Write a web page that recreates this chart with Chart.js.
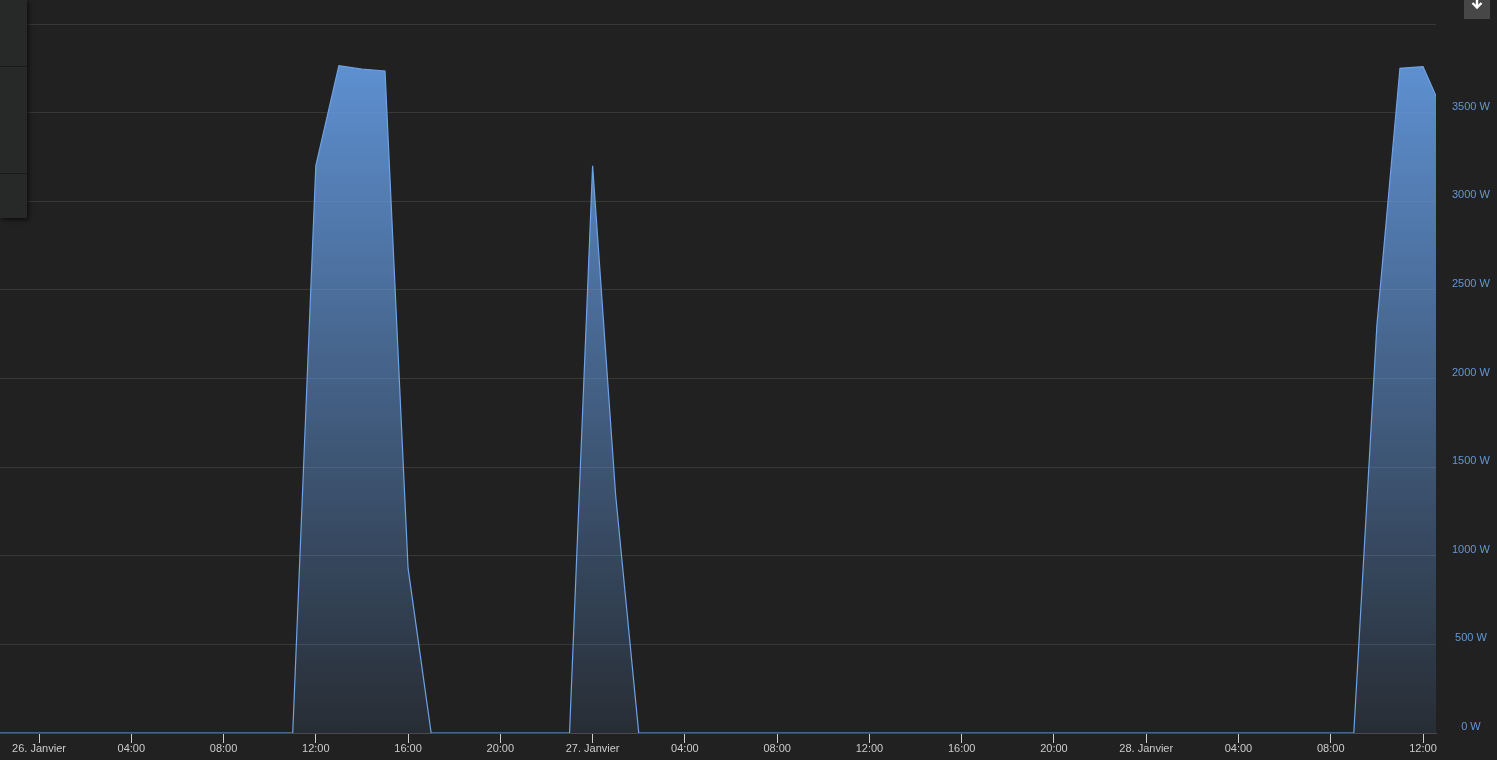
<!DOCTYPE html>
<html lang="fr">

<head>
    <meta charset="UTF-8">
    <script src="https://cdn.jsdelivr.net/npm/chart.js@4.4.1/dist/chart.umd.min.js"></script>
    <title>Puissance</title>
    <style>
        body { margin: 0; background: #212121; overflow: hidden; }
        .chart { position: relative; width: 1497px; height: 760px; }
        .side-panel {
            position: absolute; left: 0; top: 0; width: 27px; height: 218px;
            background: #272929; box-shadow: 2px 2px 4px rgba(0, 0, 0, 0.55);
        }
        .side-panel div { position: absolute; left: 0; width: 27px; height: 1px; background: #1a1a1a; }
        .download {
            position: absolute; left: 1464px; top: 0; width: 26px; height: 19px; background: #474747;
        }
    </style>
</head>

<body>
    <div class="chart">
        <canvas id="powerChart"></canvas>
        <div class="side-panel">
            <div style="top: 66px"></div>
            <div style="top: 173px"></div>
        </div>
        <div class="download">
            <svg width="26" height="19" viewBox="0 0 26 19">
                <path d="M13 -4 V7 M8.5 3 L13 7.5 L17.5 3" stroke="#ffffff" stroke-width="2.4" fill="none" />
            </svg>
        </div>
    </div>

    <script>
        // hours counted from 26. Janvier 00:00
        const hours = [-2, 11, 12, 13, 14, 15, 16, 17, 23, 24, 25, 26, 57, 58, 59, 60, 61];
        const watts = [0, 0, 3200, 3765, 3745, 3735, 930, 0, 0, 3200, 1340, 0, 0, 2300, 3750, 3760, 3465];

        const tickHours = [0, 4, 8, 12, 16, 20, 24, 28, 32, 36, 40, 44, 48, 52, 56, 60];
        const tickLabels = ["26. Janvier", "04:00", "08:00", "12:00", "16:00", "20:00",
            "27. Janvier", "04:00", "08:00", "12:00", "16:00", "20:00",
            "28. Janvier", "04:00", "08:00", "12:00"];

        Chart.defaults.font.family = '"Liberation Sans", Arial, sans-serif';
        Chart.defaults.font.size = 11;

        function areaFill(ctx) {
            const area = ctx.chart.chartArea;
            if (!area) return 'rgba(100, 155, 226, 0.5)';
            const g = ctx.chart.ctx.createLinearGradient(0, area.top, 0, area.bottom);
            g.addColorStop(0, 'rgba(100, 155, 226, 0.96)');
            g.addColorStop(1, 'rgba(100, 155, 226, 0.10)');
            return g;
        }

        new Chart("powerChart", {
            type: "line",
            data: {
                datasets: [{
                    data: hours.map((h, i) => ({ x: h, y: watts[i] })),
                    borderColor: "#6ea3e6",
                    borderWidth: 1.2,
                    backgroundColor: areaFill,
                    fill: "origin",
                    pointRadius: 0,
                    tension: 0
                }]
            },
            options: {
                responsive: true,
                maintainAspectRatio: false,
                animation: false,
                layout: { padding: { top: 24, left: 0, right: 0, bottom: 0 } },
                plugins: { legend: { display: false }, tooltip: { enabled: false } },
                scales: {
                    x: {
                        type: "linear",
                        min: -1.691,
                        max: 60.563,
                        afterBuildTicks: function (scale) {
                            scale.ticks = tickHours.map(v => ({ value: v }));
                        },
                        afterFit: function (scale) { scale.height = 27; },
                        grid: { drawOnChartArea: false, drawTicks: true, tickLength: 10, tickColor: "#cccccc" },
                        border: { display: true, color: "#4a4a4a" },
                        ticks: {
                            autoSkip: false,
                            maxRotation: 0,
                            padding: 0,
                            color: "#cccccc",
                            font: { lineHeight: 1 },
                            callback: (v, i) => tickLabels[i]
                        }
                    },
                    y: {
                        position: "right",
                        min: 0,
                        max: 4000,
                        afterFit: function (scale) { scale.width = 61; },
                        grid: { color: "#383838", drawTicks: false },
                        border: { display: false },
                        ticks: {
                            stepSize: 500,
                            color: "#6496d2",
                            crossAlign: "center",
                            padding: 16,
                            labelOffset: -6,
                            callback: v => (v === 4000 ? "" : v + " W")
                        }
                    }
                }
            }
        });
    </script>
</body>

</html>
